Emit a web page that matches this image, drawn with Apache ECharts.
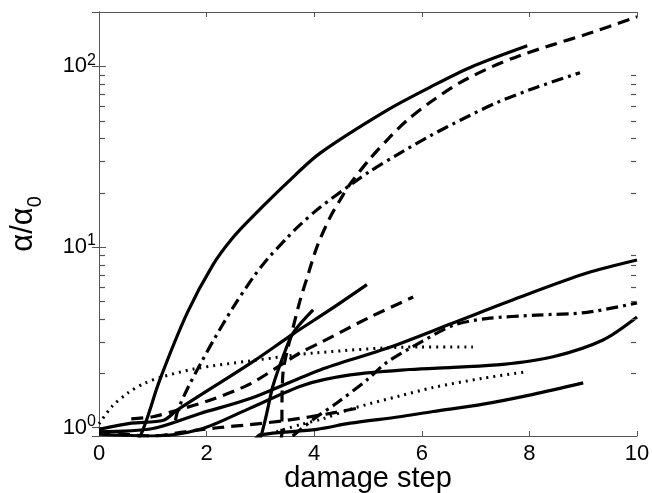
<!DOCTYPE html>
<html>
<head>
<meta charset="utf-8">
<script src="https://cdn.jsdelivr.net/npm/echarts@6/dist/echarts.min.js"></script>
<style>
  html, body { margin: 0; padding: 0; background: #fff; }
  #chart { width: 652px; height: 493px; }
</style>
</head>
<body>
<div id="chart"></div>
<script>
// axis values
const xTicks = [0, 2, 4, 6, 8, 10];
const yMin = 0.9;
const yMax = 200;
const minorTickValues = [2, 3, 4, 5, 6, 7, 8, 9, 20, 30, 40, 50, 60, 70, 80, 90];

// curves: [damage step, alpha/alpha0]
const solidSteep = [[0.55, 0.8], [0.76, 0.89], [1.13, 1.84], [1.64, 4.32], [2.12, 8.0], [2.49, 11.3], [2.86, 14.8], [3.49, 22.6], [4.11, 33.1], [5.35, 57.1], [6.15, 76.6], [6.9, 98.7], [7.96, 130]];
const solidShort = [[0, 0.98], [0.6, 1.06], [1.2, 1.1], [1.45, 1.25], [2.84, 2.3], [3.61, 3.31], [4.29, 4.49], [4.98, 6.2]];
const solidUpper = [[0, 0.95], [1.0, 0.99], [1.88, 1.2], [2.81, 1.45], [4.11, 2.09], [5.35, 2.75], [6.58, 3.8], [7.83, 5.29], [9.07, 7.18], [10, 8.48]];
const solidPlateau = [[0, 0.92], [1.0, 0.9], [1.88, 0.98], [2.8, 1.28], [3.8, 1.72], [4.67, 1.96], [5.78, 2.1], [6.58, 2.16], [7.51, 2.24], [8.44, 2.47], [9.37, 3.06], [10, 4.1]];
const solidLow = [[2.9, 0.86], [3.0, 0.915], [4.05, 0.98], [4.67, 1.06], [5.59, 1.15], [6.21, 1.23], [7.14, 1.35], [8.07, 1.53], [9.0, 1.77]];
const solidRise = [[2.98, 0.85], [3.03, 0.94], [3.12, 1.21], [3.23, 1.69], [3.42, 2.47], [3.61, 3.35], [3.98, 4.49]];

const dashedLong = [[3.38, 0.85], [3.40, 0.94], [3.40, 1.21], [3.42, 2.01], [3.49, 2.6], [3.61, 3.61], [3.74, 5.1], [3.87, 6.8], [4.05, 10], [4.29, 14.5], [4.48, 18.2], [4.67, 22.4], [5.04, 30.9], [5.41, 40.7], [5.72, 50.1], [6.15, 63.1], [6.71, 81.3], [7.32, 100], [7.83, 115], [8.44, 132], [9.07, 151], [10, 188]];
const dashedMid = [[0.6, 1.12], [1.0, 1.15], [1.45, 1.25], [2.06, 1.42], [2.81, 1.75], [3.74, 2.6], [4.11, 2.95], [5.04, 4.1], [5.84, 5.29]];
const dashedLow = [[0, 0.95], [1.0, 0.9], [1.6, 0.95], [2.2, 1.0], [2.8, 1.04], [3.5, 1.1], [4.3, 1.2], [4.9, 1.3]];

const dashDotLong = [[1.42, 1.1], [1.47, 1.26], [1.65, 1.66], [1.88, 2.24], [2.12, 3.02], [2.49, 4.62], [2.86, 6.76], [3.12, 8.51], [3.49, 11.2], [3.74, 13.3], [4.11, 16.6], [4.72, 22.6], [5.04, 26.3], [5.54, 32.4], [6.15, 41.2], [6.77, 51.3], [7.4, 63.1], [8.14, 76.7], [8.94, 92.3]];
const dashDotLow = [[3.6, 0.9], [3.74, 0.975], [4.05, 1.15], [4.42, 1.37], [4.98, 1.84], [5.35, 2.3], [6.0, 3.0], [6.6, 3.7], [7.2, 4.02], [8.14, 4.2], [9.07, 4.35], [10, 4.91]];

const dottedUpper = [[0, 1.05], [0.24, 1.31], [0.54, 1.56], [0.86, 1.77], [1.17, 1.91], [1.78, 2.12], [2.84, 2.35], [4.05, 2.6], [5.97, 2.8], [6.95, 2.8]];
const dottedLower = [[3.3, 0.95], [3.74, 1.04], [4.16, 1.12], [4.72, 1.28], [5.59, 1.5], [6.21, 1.67], [7.14, 1.88], [7.96, 2.04]];

const DASHES = {
  solid: "solid",
  dashed: [12, 7],
  dashDot: [12, 5, 3, 5],
  dotted: [2, 5],
};

const curves = [
  { data: solidSteep, style: "solid" },
  { data: solidShort, style: "solid" },
  { data: solidUpper, style: "solid" },
  { data: solidPlateau, style: "solid" },
  { data: solidLow, style: "solid" },
  { data: solidRise, style: "solid" },
  { data: dashedLong, style: "dashed" },
  { data: dashedMid, style: "dashed" },
  { data: dashedLow, style: "dashed" },
  { data: dashDotLong, style: "dashDot" },
  { data: dashDotLow, style: "dashDot" },
  { data: dottedUpper, style: "dotted" },
  { data: dottedLower, style: "dotted" },
];

const FONT = "Liberation Sans, Arial, Helvetica, sans-serif";
const FRAME = "#555";

const chart = echarts.init(document.getElementById("chart"), null, { renderer: "canvas" });

function makeLineSeries(curve) {
  return {
    type: "line",
    data: curve.data,
    xAxisIndex: 0,
    yAxisIndex: 0,
    showSymbol: false,
    smooth: 0.3,
    clip: true,
    silent: true,
    lineStyle: {
      color: "#000",
      width: curve.style === "dotted" ? 3 : 3.2,
      type: DASHES[curve.style],
      cap: "butt",
    },
  };
}

// minor ticks of the log axis (2..9 of each decade), drawn inward on both frame sides
function makeMinorTicks() {
  const xLeft = xTicks[0];
  const xRight = xTicks[xTicks.length - 1];
  return {
    type: "custom",
    xAxisIndex: 0,
    yAxisIndex: 0,
    data: minorTickValues.map((v) => [xLeft, v]),
    encode: { x: 0, y: 1 },
    clip: false,
    silent: true,
    z: 20,
    renderItem(params, api) {
      const v = api.value(1);
      const left = api.coord([xLeft, v]);
      const right = api.coord([xRight, v]);
      const y = Math.round(left[1]) + 0.5;
      const style = { stroke: FRAME, lineWidth: 1.2, fill: null };
      return {
        type: "group",
        children: [
          { type: "line", shape: { x1: left[0] + 1, y1: y, x2: left[0] + 6, y2: y }, style },
          { type: "line", shape: { x1: right[0] - 1, y1: y, x2: right[0] - 6, y2: y }, style },
        ],
      };
    },
  };
}

const yLabelFormatter = (v) => "{b|10}{e|" + Math.round(Math.log10(v)) + "}";

const option = {
  animation: false,
  backgroundColor: "#fff",
  grid: { left: 99, right: 15, top: 12, bottom: 57, containLabel: false, outerBoundsMode: "none" },
  xAxis: [
    {
      type: "value",
      min: xTicks[0],
      max: xTicks[xTicks.length - 1],
      interval: 2,
      name: "damage step",
      nameLocation: "middle",
      nameGap: 28,
      nameMoveOverlap: false,
      nameTextStyle: { fontFamily: FONT, fontSize: 29, color: "#000" },
      axisLine: { lineStyle: { color: FRAME, width: 1 } },
      axisTick: { inside: true, length: 5, lineStyle: { color: FRAME } },
      axisLabel: { fontFamily: FONT, fontSize: 22, color: "#000", margin: 7 },
      splitLine: { show: false },
    },
    {
      type: "value",
      position: "top",
      min: xTicks[0],
      max: xTicks[xTicks.length - 1],
      interval: 2,
      axisLine: { lineStyle: { color: FRAME, width: 1 } },
      axisTick: { inside: true, length: 5, lineStyle: { color: FRAME } },
      axisLabel: { show: false },
      splitLine: { show: false },
    },
  ],
  yAxis: [
    {
      type: "log",
      logBase: 10,
      min: yMin,
      max: yMax,
      name: "{a|α/α}{s|0}",
      nameLocation: "middle",
      nameRotate: 90,
      nameGap: 60,
      nameMoveOverlap: false,
      nameTextStyle: {
        color: "#000",
        rich: {
          a: { fontFamily: FONT, fontSize: 31, color: "#000" },
          s: { fontFamily: FONT, fontSize: 20, color: "#000", verticalAlign: "bottom", padding: [0, 0, -6, 0] },
        },
      },
      axisLine: { lineStyle: { color: FRAME, width: 1 } },
      axisTick: { inside: true, length: 7, lineStyle: { color: FRAME } },
      axisLabel: {
        showMinLabel: false,
        showMaxLabel: false,
        margin: 3,
        formatter: yLabelFormatter,
        rich: {
          b: { fontFamily: FONT, fontSize: 22, color: "#000", lineHeight: 22 },
          e: { fontFamily: FONT, fontSize: 16, color: "#000", verticalAlign: "top", padding: [0, 0, 12, 0] },
        },
      },
      splitLine: { show: false },
    },
    {
      type: "log",
      logBase: 10,
      min: yMin,
      max: yMax,
      position: "right",
      axisLine: { lineStyle: { color: FRAME, width: 1 } },
      axisTick: { inside: true, length: 7, lineStyle: { color: FRAME } },
      axisLabel: { show: false },
      splitLine: { show: false },
    },
  ],
  series: [
    ...curves.map(makeLineSeries),
    makeMinorTicks(),
  ],
};

chart.setOption(option);
</script>
</body>
</html>
